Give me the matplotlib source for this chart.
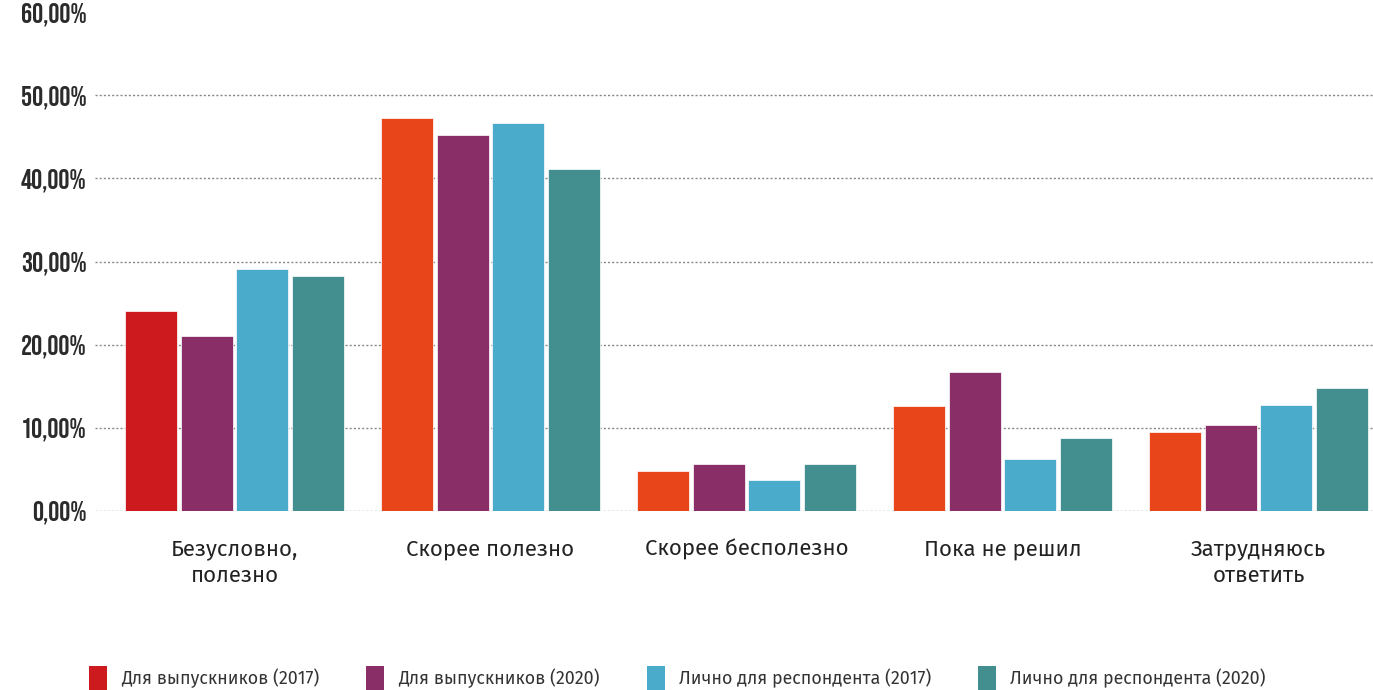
import numpy as np
import matplotlib
matplotlib.use('Agg')
import matplotlib.pyplot as plt
import matplotlib.transforms as mtransforms
from matplotlib.patches import Patch

# категории и значения (в процентах)
categories = ['Безусловно,\nполезно', 'Скорее полезно', 'Скорее бесполезно',
              'Пока не решил', 'Затрудняюсь\nответить']
series_names = ['Для выпускников (2017)', 'Для выпускников (2020)',
                'Лично для респондента (2017)', 'Лично для респондента (2020)']
grad_2017 = [24.0, 47.2, 4.8, 12.6, 9.5]
grad_2020 = [21.0, 45.2, 5.6, 16.7, 10.3]
pers_2017 = [29.1, 46.6, 3.7, 6.2, 12.7]
pers_2020 = [28.2, 41.1, 5.6, 8.8, 14.8]
yticks = [0, 10, 20, 30, 40, 50, 60]

red = '#cc1a1f'
orange = '#e8451a'
purple = '#8a2e68'
blue = '#4aabca'
teal = '#438f90'

tick_font = ['Bebas Neue', 'Barlow Condensed', 'DejaVu Sans']
text_font = ['Fira Sans', 'Noto Sans', 'DejaVu Sans']

fig = plt.figure(figsize=(13.73, 6.9), dpi=100)
ax = fig.add_axes([95 / 1373, 1 - 511 / 690, 1 - 95 / 1373, (511 - 12) / 690])

x = np.arange(len(categories))
w = 0.203
step = 0.217
data = [grad_2017, grad_2020, pers_2017, pers_2020]
colors = [orange, purple, blue, teal]
for i, vals in enumerate(data):
    bars = ax.bar(x + (i - 1.5) * step, vals, width=w, color=colors[i],
                  edgecolor='white', linewidth=0.5, zorder=3)
    if i == 0:
        bars[0].set_facecolor(red)  # в первой группе первый столбец красный

ax.set_xlim(-0.545, 4.447)
ax.set_ylim(0, 60)
ax.set_yticks(yticks)
ax.set_yticklabels(['%d,00%%' % v for v in yticks], family=tick_font,
                   fontweight=700, fontsize=20, color='#2b2b2b')
for v in yticks[:-1]:
    ax.axhline(v, color='#888888', linestyle=(0, (1.5, 1.5)), linewidth=1, zorder=1)

# подписи чуть ниже линий, верхняя (60%) заметно ниже
for k, lab in enumerate(ax.get_yticklabels()):
    dy = -0.1 if k == len(yticks) - 1 else -0.02
    lab.set_transform(lab.get_transform() + mtransforms.ScaledTranslation(0, dy, fig.dpi_scale_trans))

ax.set_xticks(x)
ax.set_xticklabels(categories, family=text_font,
                   fontsize=16, color='#222222', linespacing=1.3)
ax.tick_params(axis='x', length=0, pad=20)
ax.tick_params(axis='y', length=0, pad=6)
for s in ax.spines.values():
    s.set_visible(False)

handles = [Patch(facecolor=c) for c in [red, purple, blue, teal]]
fig.legend(handles, series_names, loc='lower left', bbox_to_anchor=(73 / 1373, -0.024),
           ncol=4, frameon=False, handlelength=1.03, handleheight=1.75,
           handletextpad=0.77, columnspacing=2.64,
           prop={'family': text_font, 'size': 12.8})
for t in fig.legends[0].get_texts():
    t.set_color('#333333')

fig.savefig('out.png', dpi=100, facecolor='white')
